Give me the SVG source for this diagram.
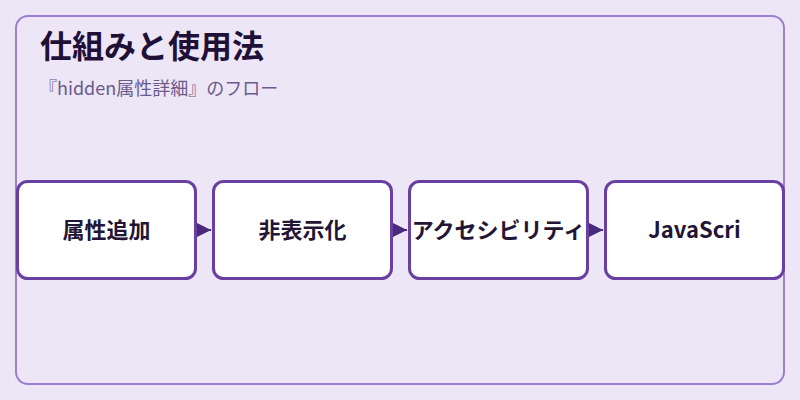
<svg xmlns="http://www.w3.org/2000/svg" width="800" height="400" viewBox="0 0 800 400">
<defs>
<style>
.bg{fill:#ede6f6}
.frame{fill:none;stroke:#9d7fd2;stroke-width:2}
.node rect{fill:#ffffff;stroke:#6a3fa2;stroke-width:3}
.node text{font-family:"Noto Sans CJK JP","Noto Sans",sans-serif;font-weight:700;font-size:22px;fill:#231536;text-anchor:middle}
.title{font-family:"Noto Sans CJK JP","Noto Sans",sans-serif;font-weight:700;font-size:32px;fill:#1e1036}
.sub{font-family:"Noto Sans CJK JP","Noto Sans",sans-serif;font-size:18px;fill:#6b5a8c}
.conn{stroke:#4a2a7c;stroke-width:2;fill:none}
</style>
<marker id="arr" viewBox="0 0 10 10" refX="10" refY="5" markerUnits="userSpaceOnUse" markerWidth="14" markerHeight="15" orient="auto">
<path d="M0,0 L10,5 L0,10 z" fill="#4a2a7c"/>
</marker>
</defs>
<rect class="bg" x="0" y="0" width="800" height="400"/>
<rect class="frame" x="16" y="16" width="768" height="368" rx="12"/>
<text class="title" x="40" y="58">仕組みと使用法</text>
<text class="sub" x="39" y="95">『hidden属性詳細』のフロー</text>
<g id="connectors">
<line class="conn" x1="198" y1="230" x2="211" y2="230" marker-end="url(#arr)"/>
<line class="conn" x1="394" y1="230" x2="407" y2="230" marker-end="url(#arr)"/>
<line class="conn" x1="590" y1="230" x2="603" y2="230" marker-end="url(#arr)"/>
</g>
<g id="node1" class="node">
<rect x="17.5" y="181.5" width="178" height="97" rx="10"/>
<text x="106.5" y="238">属性追加</text>
</g>
<g id="node2" class="node">
<rect x="213.5" y="181.5" width="178" height="97" rx="10"/>
<text x="302.5" y="238">非表示化</text>
</g>
<g id="node3" class="node">
<rect x="409.5" y="181.5" width="178" height="97" rx="10"/>
<text x="498.5" y="238">アクセシビリティ</text>
</g>
<g id="node4" class="node">
<rect x="605.5" y="181.5" width="178" height="97" rx="10"/>
<text x="694.5" y="238">JavaScri</text>
</g>
</svg>
